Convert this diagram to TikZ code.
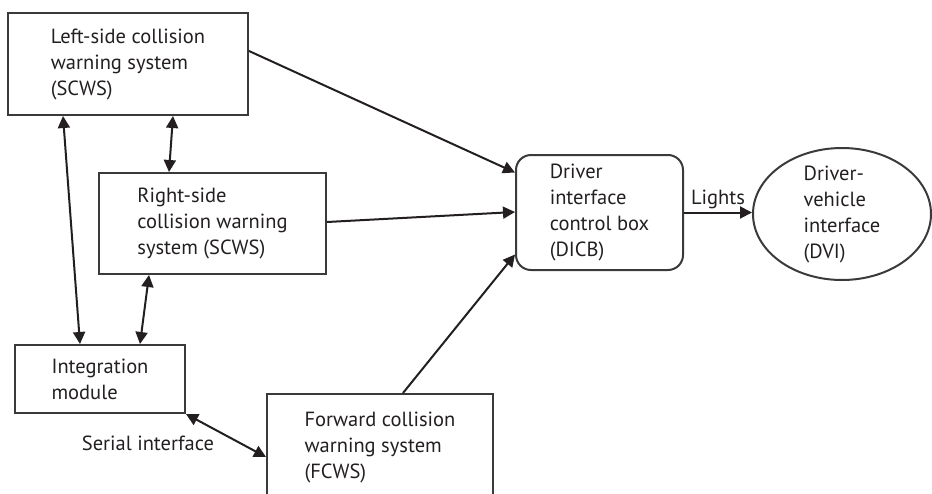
\documentclass[tikz,border=0pt]{standalone}
\usepackage{fontspec}
\setmainfont{PT Sans}
\usepackage{xcolor}
\usepackage{tikz}
\usetikzlibrary{arrows.meta,positioning,shapes.geometric,calc}
\definecolor{boxgray}{HTML}{3A3A3A}
\definecolor{inkblack}{HTML}{231F20}

\begin{document}
\begin{tikzpicture}[
  x=1pt, y=-1pt,
  node distance=68pt,
  font=\fontsize{20.5}{26}\selectfont,
  unit/.style={rectangle, draw=boxgray, line width=2pt, align=left,
               text=inkblack, inner sep=0pt},
  dicbbox/.style={unit, rounded corners=15pt},
  dvishape/.style={ellipse, draw=boxgray, line width=2pt, align=left,
               text=inkblack, inner xsep=0pt, inner ysep=-5pt},
  arrow/.style={-{Triangle[length=12pt, width=12pt]}, line width=2pt, inkblack},
  twoway/.style={{Triangle[length=12pt, width=12pt]}-{Triangle[length=12pt, width=12pt]},
               line width=2pt, inkblack},
  tag/.style={text=inkblack, inner sep=3pt},
]
\useasboundingbox (0,0) rectangle (932,493);

\node[unit, minimum width=240pt, minimum height=102pt] (lcws) at (128,64)
  {Left-side collision\\warning system\\(SCWS)};
\node[unit, minimum width=227pt, minimum height=101pt] (rcws) at (212.5,223.5)
  {Right-side\\collision warning\\system (SCWS)};
\node[unit, minimum width=170pt, minimum height=68pt] (integ) at (100,379)
  {Integration\\module};
\node[unit, minimum width=226pt, minimum height=106pt] (fcws) at (380,447)
  {Forward collision\\warning system\\(FCWS)};
\node[dicbbox, minimum width=167pt, minimum height=115pt] (dicb) at (599.5,212.5)
  {Driver\\interface\\control box\\(DICB)};
\node[dvishape, minimum width=178pt, minimum height=132pt, right=of dicb,
  yshift=-1.5pt] (dvi) {Driver-\\vehicle\\interface\\(DVI)};

% inputs to the DICB
\draw[arrow] ([yshift=13pt]lcws.east) -- ([yshift=40pt]dicb.west);
\draw[arrow] ([yshift=1.5pt]rcws.east) -- ([yshift=0.5pt]dicb.west);
\draw[arrow] ([xshift=23pt]fcws.north) -- ([yshift=-42pt]dicb.west);
\draw[arrow] (dicb.east) -- node[tag, above] (lights) {Lights} (dicb.east -| dvi.west);

% two-way links
\draw[twoway] ([xshift=-65pt]lcws.south) -- ([xshift=-20pt]integ.north);
\draw[twoway] ([xshift=45pt]lcws.south) -- ([xshift=-43.5pt]rcws.north);
\draw[twoway] ([xshift=-63.5pt]rcws.south) -- ([xshift=40pt]integ.north);
\draw[twoway] (integ.south east) -- node[tag, anchor=east, xshift=-8pt, yshift=-8pt] (serial)
  {Serial interface} ([yshift=-10pt]fcws.west);

\end{tikzpicture}
\end{document}
